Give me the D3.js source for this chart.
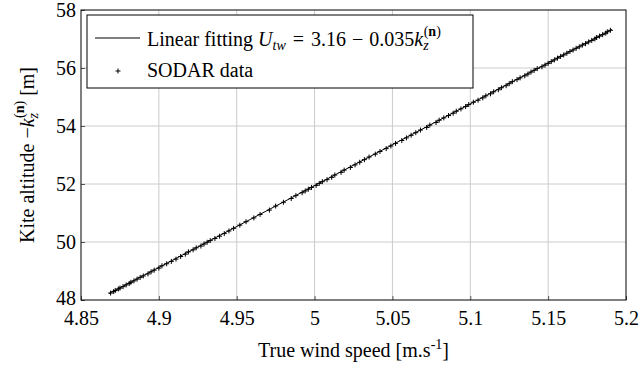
<!DOCTYPE html>
<html>
<head>
<meta charset="utf-8">
<script src="https://cdn.jsdelivr.net/npm/d3@7"></script>
<style>
  body { margin: 0; background: #fff; }
  svg text { font-family: "Liberation Serif", "DejaVu Serif", serif; fill: #000; }
</style>
</head>
<body>
<div id="chart"></div>
<script>
// linear fit endpoints (speed, altitude)
const fitSpeed = [4.868, 5.191];
const fitAltitude = [48.22, 57.33];

// SODAR samples
const sodarAltitude = [48.24, 48.29, 48.33, 48.38, 48.41, 48.46, 48.52, 48.57, 48.61, 48.66, 48.72, 48.78, 48.83, 48.90, 48.97,
  49.03, 49.10, 49.18, 49.25, 49.33, 49.41, 49.50, 49.58, 49.66, 49.73, 49.80, 49.86, 49.93, 49.99, 50.05, 50.12, 50.20,
  50.29, 50.38, 50.47, 50.58, 50.70, 50.83, 50.95, 51.10, 51.24, 51.37, 51.50, 51.60, 51.70, 51.76, 51.82, 51.88, 51.95,
  52.02, 52.08, 52.15, 52.23, 52.31, 52.40, 52.48, 52.57, 52.66, 52.75, 52.84, 52.93, 53.03, 53.12, 53.22, 53.31, 53.40,
  53.50, 53.59, 53.68, 53.77, 53.86, 53.95, 54.03, 54.12, 54.20, 54.28, 54.36, 54.44, 54.51, 54.59, 54.67, 54.74, 54.82,
  54.89, 54.97, 55.04, 55.11, 55.18, 55.25, 55.32, 55.39, 55.46, 55.53, 55.60, 55.66, 55.73, 55.79, 55.86, 55.92, 55.98,
  56.04, 56.10, 56.16, 56.22, 56.28, 56.34, 56.40, 56.45, 56.51, 56.57, 56.62, 56.68, 56.73, 56.79, 56.84, 56.90, 56.95,
  57.00, 57.05, 57.10, 57.15, 57.20, 57.25, 57.30];
const sodarSpeed = [4.869, 4.871, 4.872, 4.874, 4.875, 4.877, 4.879, 4.881, 4.882, 4.884, 4.886, 4.888, 4.890, 4.893, 4.895,
  4.897, 4.900, 4.902, 4.905, 4.908, 4.911, 4.914, 4.917, 4.919, 4.922, 4.924, 4.927, 4.929, 4.931, 4.933, 4.936, 4.939,
  4.942, 4.945, 4.948, 4.952, 4.956, 4.961, 4.965, 4.971, 4.975, 4.980, 4.985, 4.988, 4.992, 4.994, 4.996, 4.998, 5.001,
  5.003, 5.005, 5.008, 5.011, 5.013, 5.017, 5.019, 5.023, 5.026, 5.029, 5.032, 5.035, 5.039, 5.042, 5.046, 5.049, 5.052,
  5.056, 5.059, 5.062, 5.065, 5.068, 5.072, 5.074, 5.078, 5.080, 5.083, 5.086, 5.089, 5.091, 5.094, 5.097, 5.099, 5.102,
  5.105, 5.108, 5.110, 5.113, 5.115, 5.118, 5.120, 5.123, 5.125, 5.127, 5.130, 5.132, 5.135, 5.137, 5.139, 5.141, 5.143,
  5.146, 5.148, 5.150, 5.152, 5.154, 5.156, 5.158, 5.160, 5.162, 5.164, 5.166, 5.168, 5.170, 5.172, 5.174, 5.176, 5.178,
  5.180, 5.181, 5.183, 5.185, 5.187, 5.188, 5.190];

const xTicks = [4.85, 4.9, 4.95, 5, 5.05, 5.1, 5.15, 5.2];
const yTicks = [48, 50, 52, 54, 56, 58];

const width = 640, height = 367;
const margin = {top: 10, right: 14, bottom: 67, left: 81};
const FONT = "Liberation Serif";

const svg = d3.select("#chart").append("svg")
    .attr("width", width).attr("height", height);

const x = d3.scaleLinear().domain([4.85, 5.2]).range([margin.left, width - margin.right]);
const y = d3.scaleLinear().domain([48, 58]).range([height - margin.bottom, margin.top]);

// grid
svg.append("g").selectAll("line").data(xTicks.slice(1, -1)).join("line")
    .attr("x1", d => x(d)).attr("x2", d => x(d))
    .attr("y1", y(48)).attr("y2", y(58))
    .attr("stroke", "#cccccc").attr("stroke-width", 1);
svg.append("g").selectAll("line").data(yTicks.slice(1, -1)).join("line")
    .attr("y1", d => y(d)).attr("y2", d => y(d))
    .attr("x1", x(4.85)).attr("x2", x(5.2))
    .attr("stroke", "#cccccc").attr("stroke-width", 1);

// axes (inward ticks, labels)
const xAxis = svg.append("g")
    .attr("transform", "translate(0," + y(48) + ")")
    .call(d3.axisBottom(x).tickValues(xTicks).tickFormat(d3.format("")).tickSizeInner(-4).tickSizeOuter(0).tickPadding(11));
const yAxis = svg.append("g")
    .attr("transform", "translate(" + x(4.85) + ",0)")
    .call(d3.axisLeft(y).tickValues(yTicks).tickSizeInner(-4).tickSizeOuter(0).tickPadding(5));
[xAxis, yAxis].forEach(a => {
    a.attr("font-family", FONT).attr("font-size", 20);
    a.select(".domain").remove();
    a.selectAll(".tick line").attr("stroke", "#555");
    a.selectAll("text").attr("font-family", FONT).style("font-family", FONT).style("font-size", "20px");
});
xAxis.selectAll(".tick text").attr("dy", "0.71em");
yAxis.selectAll(".tick text").attr("dy", d => d === 48 ? "0.22em" : "0.34em");

// frame
svg.append("rect")
    .attr("x", x(4.85)).attr("y", y(58))
    .attr("width", x(5.2) - x(4.85)).attr("height", y(48) - y(58))
    .attr("fill", "none").attr("stroke", "#000").attr("stroke-width", 1);

// fit line
const line = d3.line().x(d => x(d[0])).y(d => y(d[1]));
svg.append("path")
    .datum(fitSpeed.map((s, i) => [s, fitAltitude[i]]))
    .attr("d", line)
    .attr("fill", "none").attr("stroke", "#000").attr("stroke-width", 1);

// sodar crosses
svg.append("g").selectAll("path").data(sodarSpeed.map((s, i) => [s, sodarAltitude[i]])).join("path")
    .attr("d", d => "M" + (x(d[0]) - 2.5) + "," + y(d[1]) + "h5M" + x(d[0]) + "," + (y(d[1]) - 2.5) + "v5")
    .attr("stroke", "#000").attr("stroke-width", 1);

// legend
const lg = svg.append("g");
lg.append("rect").attr("x", 87).attr("y", 15).attr("width", 386).attr("height", 73)
    .attr("fill", "#fff").attr("stroke", "#000").attr("stroke-width", 1);
lg.append("line").attr("x1", 95).attr("x2", 140).attr("y1", 38).attr("y2", 38)
    .attr("stroke", "#000").attr("stroke-width", 1);
lg.append("path").attr("d", "M115.5,71h5M118,68.5v5").attr("stroke", "#000").attr("stroke-width", 1);

const t1 = lg.append("text").attr("x", 147).attr("y", 46).style("font-size", "20px");
t1.append("tspan").text("Linear fitting ");
t1.append("tspan").style("font-style", "italic").text("U");
t1.append("tspan").style("font-style", "italic").style("font-size", "14px").attr("dy", 4).text("tw");
t1.append("tspan").attr("dy", -4).attr("dx", 2).text(" = ");
t1.append("tspan").attr("dx", 2).text("3.16 ");
t1.append("tspan").attr("dx", 1).text("\u2212 ");
t1.append("tspan").attr("dx", 1).text("0.035");
t1.append("tspan").style("font-style", "italic").text("k");
t1.append("tspan").style("font-style", "italic").style("font-size", "14px").attr("dy", 4).text("z");
t1.append("tspan").style("font-size", "14px").attr("dx", -5).attr("dy", -14).text("(");
t1.append("tspan").style("font-size", "14px").style("font-weight", "bold").text("n");
t1.append("tspan").style("font-size", "14px").text(")");

lg.append("text").attr("x", 147).attr("y", 77).style("font-size", "20px").text("SODAR data");

// axis titles
const xt = svg.append("text")
    .attr("x", (x(4.85) + x(5.2)) / 2).attr("y", 357)
    .style("text-anchor", "middle").style("font-size", "20px");
xt.append("tspan").text("True wind speed [m.s");
xt.append("tspan").style("font-size", "14px").attr("dy", -8).text("-1");
xt.append("tspan").attr("dy", 8).text("]");

const yt = svg.append("text")
    .attr("transform", "translate(34," + y(53) + ") rotate(-90)")
    .style("text-anchor", "middle").style("font-size", "20px");
yt.append("tspan").text("Kite altitude \u2212");
yt.append("tspan").style("font-style", "italic").text("k");
yt.append("tspan").style("font-style", "italic").style("font-size", "14px").attr("dy", 4).text("z");
yt.append("tspan").style("font-size", "14px").attr("dx", -5).attr("dy", -14).text("(");
yt.append("tspan").style("font-size", "14px").style("font-weight", "bold").text("n");
yt.append("tspan").style("font-size", "14px").text(")");
yt.append("tspan").attr("dy", 10).text(" [m]");
</script>
</body>
</html>
